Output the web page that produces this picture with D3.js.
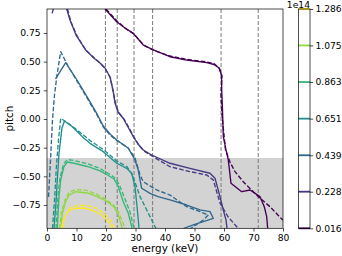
<!DOCTYPE html>
<html>
<head>
<meta charset="utf-8">
<script src="https://cdn.jsdelivr.net/npm/d3@7"></script>
<style>
  body { margin: 0; background: #fff; }
  svg { display: block; font-family: "DejaVu Sans", sans-serif; }
</style>
</head>
<body>
<div id="chart"></div>
<script>
// contour levels (x 1e14)
const levels = [0.016, 0.228, 0.439, 0.651, 0.863, 1.075, 1.286];
const xTicks = [0, 10, 20, 30, 40, 50, 60, 70, 80];
const yTicks = [-0.75, -0.5, -0.25, 0, 0.25, 0.5, 0.75];
// marker energies (keV)
const lineEnergies = [19.8, 23.8, 29.5, 35.8, 59.0, 71.6];
const shadePitch = [-0.953, -0.34];

// [energy, pitch] contours, solid = one dataset, dashed = other
const lv0Solid = [[19.66,0.959],[23.63,0.848],[26.44,0.793],[29.25,0.747],[32.64,0.645],[36.03,0.602],[41.69,0.543],[47.36,0.514],[54.14,0.491],[56.61,0.475],[58.31,0.445],[59.15,0.384],[59.22,0.253],[59.49,0.078],[59.76,-0.154],[60.68,-0.27],[61.46,-0.357],[62.37,-0.561],[66.0,-0.634],[68.81,-0.619],[72.2,-0.677],[73.66,-0.765],[74.47,-0.852],[74.81,-0.955]];
const lv0Dashed = [[20.0,0.959],[23.73,0.854],[26.61,0.789],[29.49,0.741],[32.88,0.641],[36.27,0.597],[41.69,0.549],[47.46,0.519],[54.24,0.497],[56.78,0.48],[58.47,0.44],[59.32,0.375],[58.98,0.209],[59.32,0.035],[60.0,-0.139],[60.51,-0.27],[62.03,-0.375],[63.73,-0.459],[66.54,-0.547],[68.81,-0.606],[71.63,-0.677],[75.59,-0.765],[79.9,-0.881]];

const lv1Solid = [[6.68,0.959],[7.8,0.863],[9.83,0.732],[13.12,0.602],[15.93,0.529],[17.97,0.488],[19.66,0.445],[21.36,0.366],[22.37,0.253],[23.05,0.139],[24.07,0.061],[25.76,0.009],[27.46,-0.07],[29.25,-0.154],[30.85,-0.218],[32.64,-0.27],[35.49,-0.314],[41.69,-0.386],[48.47,-0.43],[55.25,-0.473],[56.95,-0.517],[58.64,-0.677],[59.76,-0.793],[60.68,-0.88],[61.02,-0.955]];
const lv1Dashed = [[6.95,0.959],[8.14,0.846],[10.17,0.724],[13.22,0.597],[16.1,0.532],[18.14,0.484],[19.83,0.436],[21.53,0.357],[22.37,0.244],[23.22,0.139],[24.24,0.057],[26.1,0.0],[27.8,-0.078],[29.49,-0.157],[31.19,-0.231],[32.88,-0.279],[35.59,-0.323],[41.69,-0.416],[48.47,-0.459],[54.14,-0.488],[56.37,-0.532],[58.64,-0.732],[61.36,-0.852],[64.85,-0.955]];
const lv1DashedTop = [[2.14,0.959],[1.59,0.907]];

const lv2Solid = [[2.88,0.349],[6.34,0.491],[10.17,0.34],[13.9,0.179],[16.95,0.044],[19.08,-0.061],[21.36,-0.131],[23.63,-0.183],[27.56,-0.255],[29.83,-0.357],[30.95,-0.445],[31.53,-0.532],[32.1,-0.604],[34.92,-0.648],[37.63,-0.676],[41.69,-0.706],[47.36,-0.75],[51.86,-0.793],[55.25,-0.808],[56.37,-0.866],[52.98,-0.895],[49.59,-0.924],[46.2,-0.955]];
const lv2Dashed = [[0.51,-0.68],[1.19,-0.357],[1.86,-0.009],[2.54,0.209],[3.39,0.384],[4.64,0.587],[7.12,0.462],[10.17,0.331],[13.9,0.17],[16.95,0.035],[19.08,-0.07],[21.36,-0.139],[23.63,-0.187],[27.56,-0.253],[29.83,-0.34],[31.53,-0.488],[32.64,-0.547],[37.19,-0.619],[41.69,-0.663],[47.36,-0.765],[51.86,-0.808],[54.68,-0.837],[52.98,-0.881],[49.59,-0.939],[48.47,-0.959]];

const lv3Solid = [[2.37,-0.955],[2.95,-0.765],[3.49,-0.532],[4.07,-0.299],[5.08,-0.078],[5.93,-0.017],[8.58,-0.067],[12.54,-0.168],[14.58,-0.212],[19.08,-0.285],[23.63,-0.386],[27.02,-0.43],[28.71,-0.473],[29.83,-0.59],[30.41,-0.735],[30.95,-0.881],[31.19,-0.955]];
const lv3Dashed = [[1.86,-0.955],[2.54,-0.706],[3.22,-0.401],[3.9,-0.183],[4.64,0.006],[7.8,-0.048],[12.54,-0.144],[14.58,-0.187],[19.08,-0.266],[23.63,-0.366],[27.02,-0.414],[28.81,-0.48],[30.17,-0.575],[31.53,-0.677],[33.8,-0.793],[36.61,-0.939],[36.95,-0.955]];

const lv4Solid = [[3.49,-0.955],[4.07,-0.677],[4.64,-0.532],[5.76,-0.416],[6.88,-0.375],[9.15,-0.386],[13.66,-0.414],[17.97,-0.453],[20.0,-0.48],[22.71,-0.523],[24.07,-0.584],[25.86,-0.721],[27.56,-0.822],[28.71,-0.939],[28.8,-0.955]];
const lv4Dashed = [[3.05,-0.955],[3.73,-0.663],[4.41,-0.514],[5.59,-0.392],[6.88,-0.353],[9.15,-0.362],[13.56,-0.388],[17.97,-0.432],[20.0,-0.462],[22.71,-0.506],[24.41,-0.567],[26.44,-0.697],[28.14,-0.811],[29.49,-0.955]];

const lv5Solid = [[4.64,-0.955],[5.19,-0.822],[6.34,-0.721],[7.46,-0.663],[9.73,-0.634],[13.66,-0.645],[17.05,-0.677],[20.0,-0.715],[22.71,-0.767],[24.07,-0.828],[25.32,-0.939],[25.6,-0.955]];
const lv5Dashed = [[4.24,-0.955],[4.92,-0.811],[6.1,-0.706],[7.46,-0.641],[9.83,-0.615],[13.56,-0.623],[16.95,-0.658],[20.0,-0.702],[22.71,-0.754],[24.41,-0.82],[25.76,-0.907],[26.44,-0.955]];

const lv6Solid = [[4.75,-0.955],[5.76,-0.872],[6.88,-0.811],[9.15,-0.78],[12.54,-0.776],[15.59,-0.798],[17.97,-0.828],[20.0,-0.872],[21.36,-0.915],[22.03,-0.955]];
const lv6Dashed = [[5.08,-0.955],[6.1,-0.846],[7.8,-0.776],[10.17,-0.754],[13.56,-0.754],[16.95,-0.78],[19.66,-0.828],[21.69,-0.889],[23.05,-0.955]];

const contours = [
    { level: 0, pts: lv0Solid, dash: false }, { level: 0, pts: lv0Dashed, dash: true },
    { level: 1, pts: lv1Solid, dash: false }, { level: 1, pts: lv1Dashed, dash: true },
    { level: 1, pts: lv1DashedTop, dash: true },
    { level: 2, pts: lv2Solid, dash: false }, { level: 2, pts: lv2Dashed, dash: true },
    { level: 3, pts: lv3Solid, dash: false }, { level: 3, pts: lv3Dashed, dash: true },
    { level: 4, pts: lv4Solid, dash: false }, { level: 4, pts: lv4Dashed, dash: true },
    { level: 5, pts: lv5Solid, dash: false }, { level: 5, pts: lv5Dashed, dash: true },
    { level: 6, pts: lv6Solid, dash: false }, { level: 6, pts: lv6Dashed, dash: true }
];

const width = 342, height = 256;
const plot = { left: 47, right: 283, top: 9, bottom: 228.3 };
const tickFont = 9.2, labelFont = 10.4;
const tickLen = 3.2, tickPad = 3.2;

const svg = d3.select("#chart").append("svg")
    .attr("width", width)
    .attr("height", height);

const x = d3.scaleLinear().domain([0, 80]).range([plot.left, plot.right]);
const y = d3.scaleLinear().domain([-0.953, 0.959]).range([plot.bottom, plot.top]);
const color = d3.scaleSequential(d3.interpolateViridis).domain([levels[0], levels[levels.length - 1]]);

svg.append("clipPath").attr("id", "clip")
    .append("rect")
    .attr("x", plot.left).attr("y", plot.top)
    .attr("width", plot.right - plot.left)
    .attr("height", plot.bottom - plot.top);

const g = svg.append("g").attr("clip-path", "url(#clip)");

// grey band
g.append("rect")
    .attr("x", x(0))
    .attr("y", y(shadePitch[1]))
    .attr("width", x(80) - x(0))
    .attr("height", y(shadePitch[0]) - y(shadePitch[1]))
    .attr("fill", "#d3d3d3");

// vertical marker lines
g.selectAll("line.vline")
    .data(lineEnergies)
    .enter()
    .append("line")
    .attr("class", "vline")
    .attr("x1", d => x(d)).attr("x2", d => x(d))
    .attr("y1", plot.top).attr("y2", plot.bottom)
    .attr("stroke", "#7a7a7a")
    .attr("stroke-width", 1)
    .attr("stroke-dasharray", "4,2");

const line = d3.line().x(d => x(d[0])).y(d => y(d[1]));

g.selectAll("path.contour")
    .data(contours)
    .enter()
    .append("path")
    .attr("class", "contour")
    .attr("d", d => line(d.pts))
    .attr("fill", "none")
    .attr("stroke", d => color(levels[d.level]))
    .attr("stroke-width", 1.35)
    .attr("stroke-linejoin", "round")
    .attr("stroke-dasharray", d => d.dash ? "4.6,2" : null);

// axes
const xAxis = svg.append("g")
    .attr("transform", `translate(0,${plot.bottom})`)
    .call(d3.axisBottom(x).tickValues(xTicks).tickSize(tickLen).tickPadding(tickPad).tickFormat(d3.format("d")));
const yAxis = svg.append("g")
    .attr("transform", `translate(${plot.left},0)`)
    .call(d3.axisLeft(y).tickValues(yTicks).tickSize(tickLen).tickPadding(tickPad).tickFormat(d3.format(".2f")));

[xAxis, yAxis].forEach(a => {
    a.select(".domain").remove();
    a.selectAll("line").attr("stroke", "#000").attr("stroke-width", 0.7);
    a.selectAll("text").attr("font-size", tickFont).attr("fill", "#000")
        .attr("font-family", "DejaVu Sans");
});

svg.append("rect")
    .attr("x", plot.left).attr("y", plot.top)
    .attr("width", plot.right - plot.left)
    .attr("height", plot.bottom - plot.top)
    .attr("fill", "none")
    .attr("stroke", "#000")
    .attr("stroke-width", 0.7);

svg.append("text")
    .attr("x", (plot.left + plot.right) / 2)
    .attr("y", 252)
    .attr("text-anchor", "middle")
    .attr("font-size", labelFont)
    .text("energy (keV)");

svg.append("text")
    .attr("transform", `translate(12.5,${(plot.top + plot.bottom) / 2}) rotate(-90)`)
    .attr("text-anchor", "middle")
    .attr("font-size", labelFont)
    .text("pitch");

// colorbar
const cb = { left: 298.5, right: 310, top: 9, bottom: 228.3 };
const cy = d3.scaleLinear().domain([levels[0], levels[levels.length - 1]]).range([cb.bottom, cb.top]);

svg.selectAll("line.cbline")
    .data(levels)
    .enter()
    .append("line")
    .attr("class", "cbline")
    .attr("x1", cb.left).attr("x2", cb.right)
    .attr("y1", d => cy(d)).attr("y2", d => cy(d))
    .attr("stroke", d => color(d))
    .attr("stroke-width", 1.8);

svg.append("rect")
    .attr("x", cb.left).attr("y", cb.top)
    .attr("width", cb.right - cb.left)
    .attr("height", cb.bottom - cb.top)
    .attr("fill", "none")
    .attr("stroke", "#000")
    .attr("stroke-width", 0.7);

const cAxis = svg.append("g")
    .attr("transform", `translate(${cb.right},0)`)
    .call(d3.axisRight(cy).tickValues(levels).tickSize(tickLen).tickPadding(2.2).tickFormat(d3.format(".3f")));
cAxis.select(".domain").remove();
cAxis.selectAll("line").attr("stroke", "#000").attr("stroke-width", 0.7);
cAxis.selectAll("text").attr("font-size", tickFont).attr("fill", "#000").attr("font-family", "DejaVu Sans");

svg.append("text")
    .attr("x", cb.right)
    .attr("y", 7.5)
    .attr("text-anchor", "end")
    .attr("font-size", tickFont)
    .text("1e14");
</script>
</body>
</html>
